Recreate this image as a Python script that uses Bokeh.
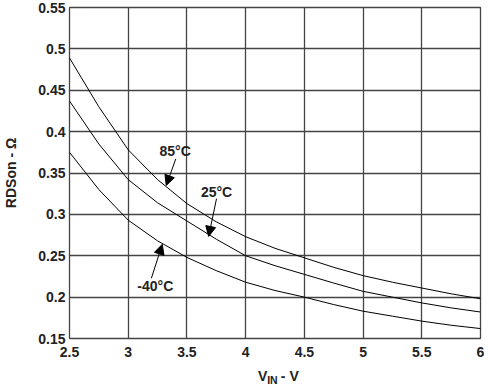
from bokeh.plotting import figure
from bokeh.models import Label, Arrow, NormalHead, Range1d, FixedTicker
from bokeh.layouts import column
from bokeh.embed import file_html
from bokeh.resources import INLINE

vin = [2.5, 2.75, 3.0, 3.25, 3.5, 3.75, 4.0, 4.25, 4.5, 4.75, 5.0, 5.25, 5.5, 5.75, 6.0]
r_85 = [0.489, 0.430, 0.378, 0.342, 0.313, 0.291, 0.273, 0.259, 0.2475, 0.236, 0.226, 0.218, 0.211, 0.204, 0.198]
r_25 = [0.437, 0.385, 0.342, 0.314, 0.292, 0.270, 0.250, 0.238, 0.2275, 0.217, 0.207, 0.200, 0.193, 0.187, 0.182]
r_m40 = [0.375, 0.330, 0.293, 0.268, 0.248, 0.232, 0.218, 0.208, 0.200, 0.191, 0.183, 0.177, 0.171, 0.166, 0.162]

x_ticks = [2.5, 3, 3.5, 4, 4.5, 5, 5.5, 6]
y_ticks = [0.15, 0.2, 0.25, 0.3, 0.35, 0.4, 0.45, 0.5, 0.55]
x_tick_labels = {2.5: "2.5", 3: "3", 3.5: "3.5", 4: "4", 4.5: "4.5", 5: "5", 5.5: "5.5", 6: "6"}
y_tick_labels = {0.15: "0.15", 0.2: "0.2", 0.25: "0.25", 0.3: "0.3", 0.35: "0.35",
                 0.4: "0.4", 0.45: "0.45", 0.5: "0.5", 0.55: "0.55"}

FONT = "Liberation Sans"
GRID = "#444444"
TXT = "#222222"

p = figure(width=488, height=360, output_backend="svg", toolbar_location=None,
           x_range=Range1d(2.5, 6), y_range=Range1d(0.15, 0.55),
           min_border_left=64, min_border_right=8, min_border_top=7, min_border_bottom=22)
p.background_fill_color = "white"
p.border_fill_color = "white"
p.outline_line_color = GRID
p.outline_line_width = 1.3

for ax in (p.xaxis[0], p.yaxis[0]):
    ax.axis_line_color = None
    ax.major_tick_line_color = None
    ax.minor_tick_line_color = None
    ax.major_tick_out = 0
    ax.major_tick_in = 0
    ax.minor_tick_out = 0
    ax.major_label_text_font = FONT
    ax.major_label_text_font_style = "bold"
    ax.major_label_text_font_size = "14px"
    ax.major_label_text_color = TXT

p.xaxis[0].ticker = FixedTicker(ticks=x_ticks)
p.yaxis[0].ticker = FixedTicker(ticks=y_ticks)
p.xaxis[0].major_label_overrides = x_tick_labels
p.yaxis[0].major_label_overrides = y_tick_labels
p.xaxis[0].major_label_standoff = 8
p.yaxis[0].major_label_standoff = 4

p.yaxis[0].axis_label = "RDSon - Ω"
p.yaxis[0].axis_label_text_font = FONT
p.yaxis[0].axis_label_text_font_style = "bold"
p.yaxis[0].axis_label_text_font_size = "14px"
p.yaxis[0].axis_label_text_color = TXT
p.yaxis[0].axis_label_standoff = 16

for g in (p.xgrid[0], p.ygrid[0]):
    g.grid_line_color = GRID
    g.grid_line_width = 1.3
p.xgrid[0].ticker = FixedTicker(ticks=x_ticks)
p.ygrid[0].ticker = FixedTicker(ticks=y_ticks)

for ys in (r_85, r_25, r_m40):
    p.line(vin, ys, line_color="black", line_width=1)


def lab(fig, x, y, t, size="14px", align="center", baseline="middle"):
    fig.add_layout(Label(x=x, y=y, text=t, text_font=FONT, text_font_style="bold",
                         text_font_size=size, text_color=TXT,
                         text_align=align, text_baseline=baseline))


def arr(x0, y0, x1, y1):
    p.add_layout(Arrow(x_start=x0, y_start=y0, x_end=x1, y_end=y1,
                       line_color="black", line_width=1,
                       end=NormalHead(size=10, fill_color="black", line_color="black")))


lab(p, 3.40, 0.376, "85°C")
arr(3.405, 0.367, 3.324, 0.335)
lab(p, 3.752, 0.327, "25°C")
arr(3.752, 0.319, 3.685, 0.2734)
lab(p, 3.231, 0.213, "-40°C")
arr(3.197, 0.2227, 3.290, 0.2638)

# x axis title strip: V_IN - V, sharing the main figure's x range
q = figure(width=488, height=28, output_backend="svg", toolbar_location=None,
           x_range=p.x_range, y_range=Range1d(0, 28),
           min_border_left=64, min_border_right=8, min_border_top=0, min_border_bottom=0)
q.xaxis.visible = False
q.yaxis.visible = False
q.xgrid.visible = False
q.ygrid.visible = False
q.outline_line_color = None
q.background_fill_color = "white"
q.border_fill_color = "white"

lab(q, 4.105, 13, "V", align="left")
lab(q, 4.183, 9, "IN", size="10.5px", align="left")
lab(q, 4.30, 13, " - V", align="left")

open("out.html", "w").write(file_html(column(p, q, spacing=0), INLINE))
